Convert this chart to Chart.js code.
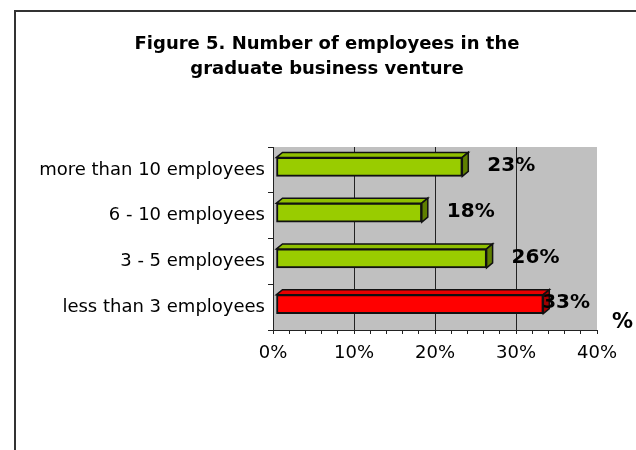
<!DOCTYPE html>
<html>
<head>
<meta charset="utf-8">
<script src="https://cdn.jsdelivr.net/npm/chart.js@4.4.0/dist/chart.umd.min.js"></script>
<style>
  html, body { margin: 0; padding: 0; background: #fff; overflow: hidden; }
  #wrap { position: relative; width: 636px; height: 450px; }
  #marco {
    position: absolute; left: 14px; top: 10px; width: 700px; height: 500px;
    border: 2px solid #333; pointer-events: none;
  }
</style>
</head>
<body>
<div id="wrap">
  <canvas id="myChart" width="636" height="450"></canvas>
  <div id="marco"></div>
</div>
<script>
// Categorías y porcentajes (de arriba hacia abajo)
const categorias = ["more than 10 employees", "6 - 10 employees", "3 - 5 employees", "less than 3 employees"];
const porcentajes = [23, 18, 26, 33];
const colores = ["#99cc00", "#99cc00", "#99cc00", "#ff0000"];
const coloresArriba = ["#8fbf00", "#8fbf00", "#8fbf00", "#e60000"];
const coloresLado = ["#5f7f00", "#5f7f00", "#5f7f00", "#a00000"];
const ticksX = [0, 10, 20, 30, 40];
const titulo = ["Figure 5. Number of employees in the", "graduate business venture"];

const FUENTE = "DejaVu Sans";
const PROF_X = 6; // profundidad del efecto 3D
const PROF_Y = 5;

// Fondo gris del área del gráfico y título centrado sobre el marco
const fondoArea = {
  id: "fondoArea",
  beforeDraw(chart) {
    const { ctx, chartArea: a } = chart;
    ctx.save();
    ctx.fillStyle = "#c0c0c0";
    ctx.fillRect(a.left, a.top, a.right - a.left, a.bottom - a.top);
    ctx.fillStyle = "#000";
    ctx.font = "bold 18px '" + FUENTE + "'";
    ctx.textAlign = "center";
    ctx.textBaseline = "middle";
    titulo.forEach((linea, i) => ctx.fillText(linea, 327, 44 + i * 25));
    ctx.restore();
  },
};

// Barras con caras superior y lateral
const barras3D = {
  id: "barras3D",
  beforeDatasetDraw(chart) {
    chart.ctx.save();
    chart.ctx.translate(3, -3);
  },
  afterDatasetDraw(chart, args) {
    const ctx = chart.ctx;
    args.meta.data.forEach((bar, i) => {
      const p = bar.getProps(["x", "y", "base", "height"], true);
      const top = p.y - p.height / 2;
      const bot = p.y + p.height / 2;
      ctx.lineWidth = 1.5;
      ctx.strokeStyle = "#111";
      // cara superior
      ctx.beginPath();
      ctx.moveTo(p.base, top);
      ctx.lineTo(p.base + PROF_X, top - PROF_Y);
      ctx.lineTo(p.x + PROF_X, top - PROF_Y);
      ctx.lineTo(p.x, top);
      ctx.closePath();
      ctx.fillStyle = coloresArriba[i];
      ctx.fill();
      ctx.stroke();
      // cara lateral
      ctx.beginPath();
      ctx.moveTo(p.x, top);
      ctx.lineTo(p.x + PROF_X, top - PROF_Y);
      ctx.lineTo(p.x + PROF_X, bot - PROF_Y);
      ctx.lineTo(p.x, bot);
      ctx.closePath();
      ctx.fillStyle = coloresLado[i];
      ctx.fill();
      ctx.stroke();
    });
    ctx.restore();
  },
};

// Etiquetas de porcentaje y título del eje "%"
const etiquetas = {
  id: "etiquetas",
  afterDatasetsDraw(chart) {
    const { ctx, chartArea: a } = chart;
    const x = chart.scales.x;
    const meta = chart.getDatasetMeta(0);
    ctx.save();
    ctx.font = "bold 20px '" + FUENTE + "'";
    ctx.fillStyle = "#000";
    ctx.textBaseline = "middle";
    meta.data.forEach((bar, i) => {
      const txt = porcentajes[i] + "%";
      const w = ctx.measureText(txt).width;
      let left = x.getPixelForValue(porcentajes[i]) + 28;
      if (left + w > a.right - 7) left = a.right - 7 - w;
      ctx.fillText(txt, left, bar.y - 4);
    });
    ctx.font = "bold 21px '" + FUENTE + "'";
    ctx.fillText("%", a.right + 15, a.bottom - 7);
    ctx.restore();
  },
};

const ctx = document.getElementById("myChart").getContext("2d");
new Chart(ctx, {
  type: "bar",
  data: {
    labels: categorias,
    datasets: [
      {
        data: porcentajes,
        backgroundColor: colores,
        borderColor: "#111",
        borderWidth: 2,
        borderSkipped: false,
        barThickness: 19,
      },
    ],
  },
  options: {
    indexAxis: "y",
    responsive: false,
    animation: false,
    layout: { padding: { left: 0, right: 39, top: 147, bottom: 0 } },
    plugins: {
      legend: { display: false },
      tooltip: { enabled: false },
      title: { display: false },
    },
    scales: {
      x: {
        min: 0,
        max: 40,
        afterBuildTicks(scale) {
          const t = [];
          for (let v = 0; v <= 40; v += 2) t.push({ value: v });
          scale.ticks = t;
        },
        afterFit(scale) { scale.height = 120; },
        border: { display: true, color: "#222", width: 1 },
        grid: {
          color: (c) => (c.tick && ticksX.includes(c.tick.value) && c.tick.value !== 0 && c.tick.value !== 40 ? "#222" : "rgba(0,0,0,0)"),
          tickColor: "#222",
          tickLength: 4,
          lineWidth: 1,
        },
        ticks: {
          autoSkip: false,
          maxRotation: 0,
          padding: 9,
          color: "#000",
          font: { family: FUENTE, size: 18 },
          callback: (v) => (ticksX.includes(v) ? v + "%" : ""),
        },
      },
      y: {
        afterFit(scale) { scale.width = 273; },
        border: { display: true, color: "#222", width: 1 },
        grid: { drawOnChartArea: false, offset: true, tickColor: "#222", tickLength: 5 },
        ticks: {
          padding: 3,
          color: "#000",
          font: { family: FUENTE, size: 18 },
        },
      },
    },
  },
  plugins: [fondoArea, barras3D, etiquetas],
});
</script>
</body>
</html>
